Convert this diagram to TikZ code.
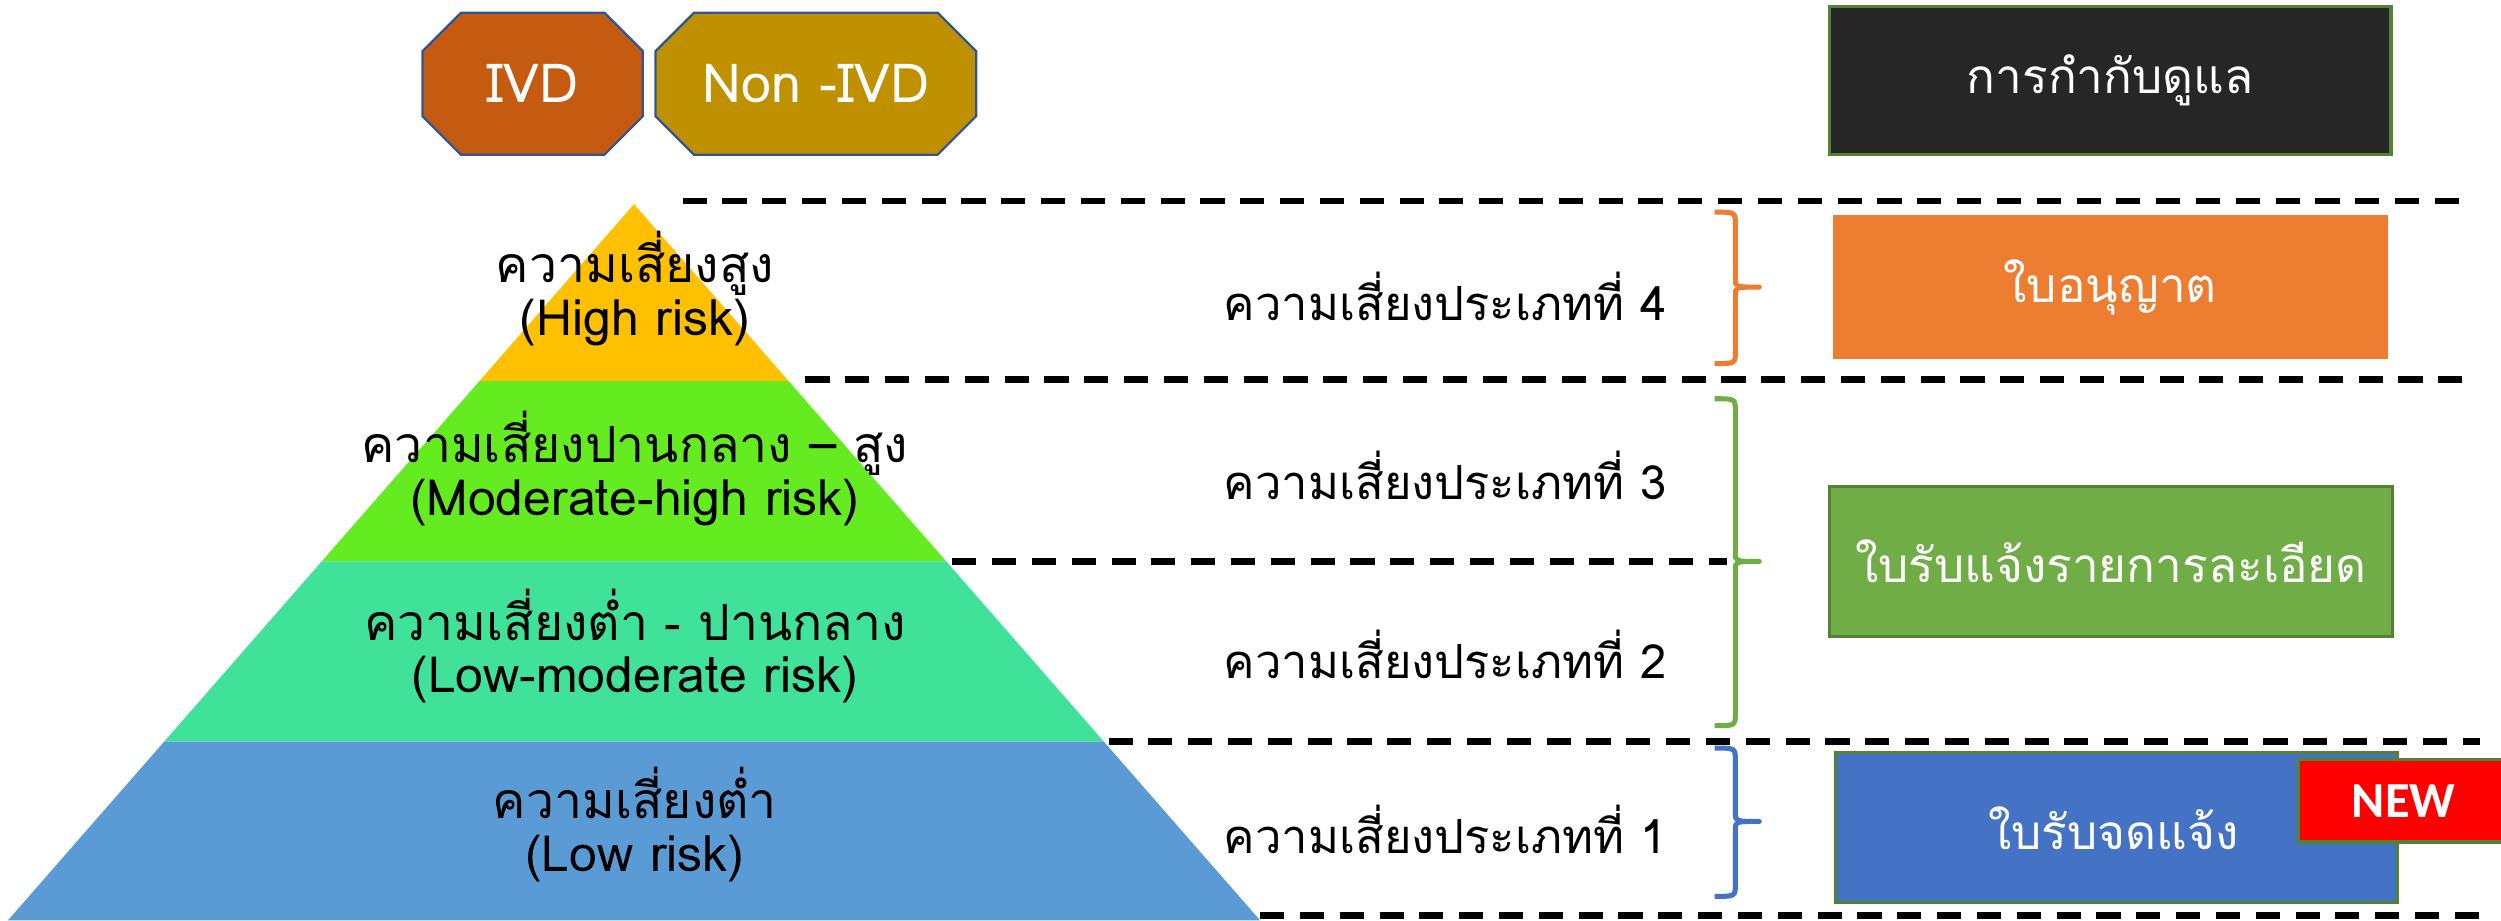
\documentclass[tikz,border=0pt]{standalone}
\usepackage{fontspec}
\setmainfont{Loma}[Script=Thai]
\newfontfamily\badgefont{Carlito}
\usetikzlibrary{shapes.misc}
\definecolor{cyellow}{HTML}{FFC000}
\definecolor{cgreen}{HTML}{64EC21}
\definecolor{cteal}{HTML}{40E199}
\definecolor{cblue}{HTML}{5B9BD5}
\definecolor{corange}{HTML}{ED7D31}
\definecolor{cgreenbox}{HTML}{70AD47}
\definecolor{cbluebox}{HTML}{4472C4}
\definecolor{cdkgreen}{HTML}{548235}
\definecolor{civd}{HTML}{C55A11}
\definecolor{cnonivd}{HTML}{BF9000}
\definecolor{coutline}{HTML}{2F5597}
\definecolor{cblack}{HTML}{262626}
\tikzset{
  sep/.style={line width=1.2pt, dash pattern=on 4.3pt off 2.8pt},
  bracestyle/.style={line width=0.9pt, line join=round},
  oct/.style={chamfered rectangle, chamfered rectangle xsep=0.26cm, draw=coutline, line width=0.4pt, minimum height=0.89cm, inner sep=0pt, text=white, font=\fontsize{9.6}{12}\selectfont},
  ptext/.style={align=center, inner sep=0pt, font=\fontsize{8.9}{9.4}\selectfont},
  mtext/.style={inner sep=0pt, font=\fontsize{8.4}{11}\selectfont},
  btext/.style={inner sep=0pt, text=white, font=\fontsize{8.5}{11}\selectfont},
}
\begin{document}
\begin{tikzpicture}[x=0.01cm, y=-0.01cm]
\useasboundingbox (0,0) rectangle (1568,577);
% pyramid
\fill[cyellow] (397.5,128) -- (494.5,239) -- (300.5,239) -- cycle;
\fill[cgreen] (300.5,239) -- (494.5,239) -- (593.3,352) -- (201.7,352) -- cycle;
\fill[cteal] (201.7,352) -- (593.3,352) -- (692.1,465) -- (102.9,465) -- cycle;
\fill[cblue] (102.9,465) -- (692.1,465) -- (790,577) -- (5,577) -- cycle;
\node[ptext] (l4) at (398,181) {ความเสี่ยงสูง\\(High risk)};
\node[ptext] (l3) at (398,294) {ความเสี่ยงปานกลาง – สูง\\(Moderate-high risk)};
\node[ptext] (l2) at (398,405) {ความเสี่ยงต่ำ - ปานกลาง\\(Low-moderate risk)};
\node[ptext] (l1) at (398,517) {ความเสี่ยงต่ำ\\(Low risk)};
% separators
\draw[sep] (428,126) -- (1550,126);
\draw[sep] (505,238) -- (1550,238);
\draw[sep] (597,352) -- (1083,352);
\draw[sep] (695,465) -- (1555,465);
\draw[sep] (790,574) -- (1555,574);
% middle texts
\node[mtext] (c4) at (906,186) {ความเสี่ยงประเภทที่ 4};
\node[mtext] (c3) at (906,298) {ความเสี่ยงประเภทที่ 3};
\node[mtext] (c2) at (906,410) {ความเสี่ยงประเภทที่ 2};
\node[mtext] (c1) at (906,520) {ความเสี่ยงประเภทที่ 1};
% braces
\draw[bracestyle, corange] (1075,133) .. controls (1088,133) .. (1088,141) -- (1088,175) .. controls (1088,180) .. (1103,180) .. controls (1088,180) .. (1088,185) -- (1088,220) .. controls (1088,228) .. (1075,228);
\draw[bracestyle, cgreenbox] (1075,250) .. controls (1088,250) .. (1088,258) -- (1088,347) .. controls (1088,352) .. (1103,352) .. controls (1088,352) .. (1088,357) -- (1088,447) .. controls (1088,455) .. (1075,455);
\draw[bracestyle, cbluebox] (1075,469) .. controls (1088,469) .. (1088,477) -- (1088,510) .. controls (1088,515) .. (1103,515) .. controls (1088,515) .. (1088,520) -- (1088,554) .. controls (1088,562) .. (1075,562);
% top octagons
\node[oct, fill=civd, minimum width=1.38cm] (ivd) at (334,52.5) {IVD};
\node[oct, fill=cnonivd, minimum width=2.01cm] (nonivd) at (511.5,52.5) {Non -IVD};
% right boxes
\node[draw=cdkgreen, line width=0.6pt, fill=cblack, minimum width=3.52cm, minimum height=0.93cm, inner sep=0pt] (reg) at (1323,50.5) {};
\node[btext] (regt) at (reg.center) {การกำกับดูแล};
\node[fill=corange, minimum width=3.48cm, minimum height=0.90cm, inner sep=0pt] (lic) at (1323,180) {};
\node[btext] (lict) at (lic.center) {ใบอนุญาต};
\node[draw=cdkgreen, line width=0.6pt, fill=cgreenbox, minimum width=3.53cm, minimum height=0.94cm, inner sep=0pt] (det) at (1323.5,352) {};
\node[btext] (dett) at (det.center) {ใบรับแจ้งรายการละเอียด};
\node[draw=cdkgreen, line width=0.6pt, fill=cbluebox, minimum width=3.52cm, minimum height=0.94cm, inner sep=0pt] (ntf) at (1327,519) {};
\node[btext] (ntft) at (1325,519) {ใบรับจดแจ้ง};
\node[draw=cdkgreen, line width=0.6pt, fill=red, minimum width=1.34cm, minimum height=0.52cm, inner sep=0pt] (new) at (1508,502) {};
\node[inner sep=0pt, text=white, font=\badgefont\bfseries\fontsize{9}{11}\selectfont] (newt) at (1507,502) {NEW};
\end{tikzpicture}
\end{document}
